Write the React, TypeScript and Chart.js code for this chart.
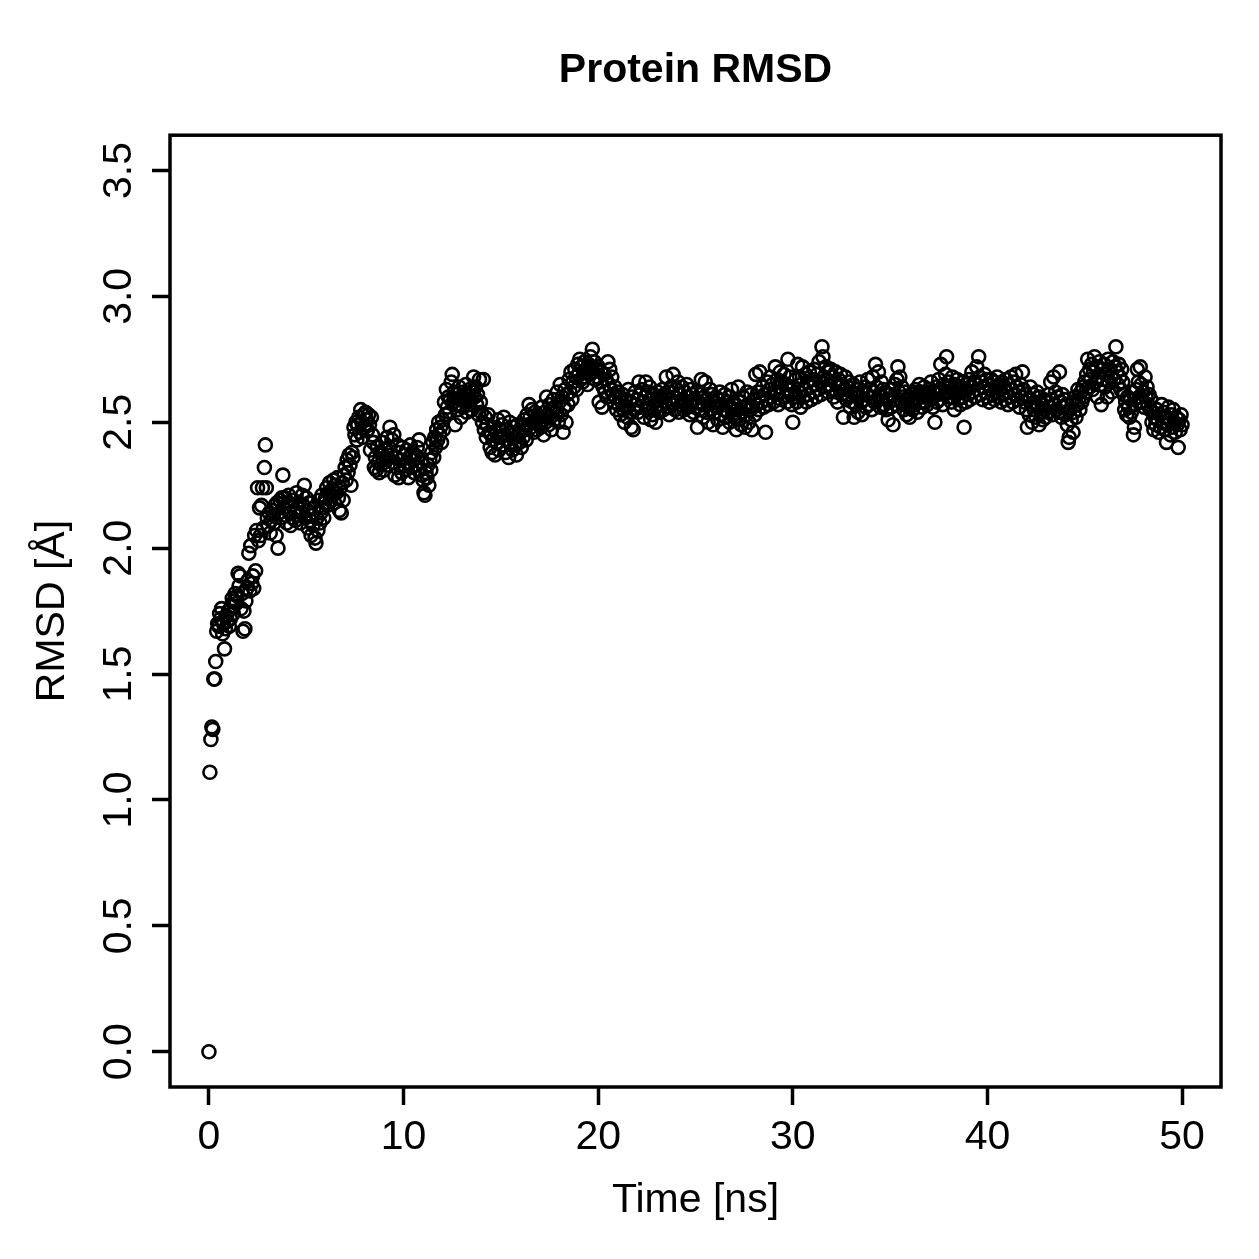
import { useEffect, useRef } from "react";
import { Chart, registerables } from "chart.js";

Chart.register(...registerables);

const TITLE = "Protein RMSD";
const X_LABEL = "Time [ns]";
const Y_LABEL = "RMSD [Å]";
const X_TICKS = [0, 10, 20, 30, 40, 50];
const Y_TICKS = [0, 0.5, 1.0, 1.5, 2.0, 2.5, 3.0, 3.5];
const Y_TICK_LABELS = ["0.0", "0.5", "1.0", "1.5", "2.0", "2.5", "3.0", "3.5"];
const TIME_STEP_NS = 0.05;

// RMSD (Å) sampled every 0.05 ns, one row per nanosecond
const RMSD_0_10 = [
  0.00, 1.11, 1.24, 1.29, 1.28, 1.48, 1.48, 1.55, 1.67, 1.70, 1.69, 1.74, 1.72, 1.76, 1.66, 1.70, 1.60, 1.68, 1.73, 1.71,
  1.75, 1.69, 1.72, 1.77, 1.80, 1.74, 1.79, 1.82, 1.78, 1.81, 1.90, 1.85, 1.89, 1.76, 1.82, 1.67, 1.75, 1.68, 1.79, 1.84,
  1.87, 1.98, 1.83, 2.01, 1.86, 1.89, 1.84, 2.05, 1.91, 2.07, 2.24, 2.03, 2.16, 2.05, 2.17, 2.24, 2.08, 2.32, 2.41, 2.24,
  2.12, 2.09, 2.14, 2.06, 2.11, 2.15, 2.13, 2.10, 2.17, 2.05, 2.18, 2.00, 2.14, 2.19, 2.12, 2.20, 2.29, 2.16, 2.20, 2.13,
  2.10, 2.18, 2.21, 2.14, 2.09, 2.17, 2.12, 2.19, 2.15, 2.11, 2.22, 2.16, 2.13, 2.18, 2.10, 2.14, 2.21, 2.17, 2.25, 2.12,
  2.20, 2.15, 2.08, 2.18, 2.11, 2.05, 2.13, 2.09, 2.16, 2.04, 2.02, 2.12, 2.07, 2.19, 2.10, 2.14, 2.21, 2.16, 2.12, 2.18,
  2.20, 2.24, 2.17, 2.22, 2.26, 2.19, 2.23, 2.21, 2.27, 2.18, 2.25, 2.22, 2.28, 2.20, 2.15, 2.24, 2.14, 2.26, 2.19, 2.29,
  2.32, 2.27, 2.35, 2.30, 2.37, 2.33, 2.25, 2.38, 2.36, 2.48, 2.45, 2.50, 2.43, 2.49, 2.52, 2.46, 2.55, 2.50, 2.44, 2.53,
  2.48, 2.54, 2.51, 2.47, 2.53, 2.49, 2.39, 2.52, 2.45, 2.42, 2.32, 2.36, 2.31, 2.40, 2.34, 2.30, 2.38, 2.33, 2.42, 2.35,
  2.31, 2.39, 2.36, 2.44, 2.33, 2.40, 2.48, 2.37, 2.43, 2.34, 2.45, 2.29, 2.36, 2.32, 2.41, 2.28, 2.38, 2.35, 2.30, 2.40,
];
const RMSD_10_20 = [
  2.33, 2.37, 2.31, 2.39, 2.34, 2.28, 2.36, 2.41, 2.32, 2.38, 2.35, 2.30, 2.37, 2.33, 2.40, 2.36, 2.43, 2.31, 2.34, 2.29,
  2.27, 2.22, 2.21, 2.30, 2.28, 2.33, 2.25, 2.35, 2.31, 2.38, 2.42, 2.36, 2.44, 2.40, 2.47, 2.43, 2.50, 2.45, 2.48, 2.42,
  2.51, 2.47, 2.58, 2.53, 2.63, 2.56, 2.60, 2.54, 2.59, 2.66, 2.69, 2.58, 2.62, 2.49, 2.57, 2.61, 2.55, 2.64, 2.59, 2.52,
  2.60, 2.56, 2.62, 2.58, 2.65, 2.54, 2.61, 2.57, 2.63, 2.59, 2.55, 2.62, 2.68, 2.60, 2.64, 2.57, 2.61, 2.53, 2.67, 2.58,
  2.54, 2.50, 2.67, 2.47, 2.52, 2.44, 2.49, 2.53, 2.46, 2.40, 2.45, 2.38, 2.43, 2.48, 2.37, 2.46, 2.42, 2.51, 2.39, 2.47,
  2.44, 2.49, 2.41, 2.52, 2.45, 2.38, 2.47, 2.43, 2.36, 2.50, 2.42, 2.46, 2.39, 2.48, 2.41, 2.44, 2.37, 2.49, 2.45, 2.42,
  2.46, 2.40, 2.48, 2.44, 2.51, 2.47, 2.43, 2.53, 2.49, 2.57, 2.52, 2.48, 2.55, 2.50, 2.46, 2.54, 2.51, 2.47, 2.53, 2.49,
  2.52, 2.48, 2.56, 2.51, 2.45, 2.54, 2.50, 2.60, 2.53, 2.49, 2.57, 2.52, 2.47, 2.55, 2.59, 2.51, 2.56, 2.54, 2.62, 2.50,
  2.58, 2.65, 2.53, 2.60, 2.46, 2.56, 2.63, 2.50, 2.61, 2.57, 2.67, 2.62, 2.70, 2.59, 2.66, 2.64, 2.71, 2.68, 2.63, 2.73,
  2.69, 2.75, 2.67, 2.72, 2.66, 2.70, 2.74, 2.68, 2.71, 2.65, 2.73, 2.69, 2.76, 2.72, 2.79, 2.70, 2.74, 2.67, 2.71, 2.68,
];
const RMSD_20_30 = [
  2.72, 2.58, 2.66, 2.70, 2.56, 2.64, 2.69, 2.62, 2.67, 2.60, 2.74, 2.65, 2.71, 2.63, 2.68, 2.61, 2.58, 2.64, 2.60, 2.55,
  2.62, 2.57, 2.60, 2.53, 2.58, 2.61, 2.55, 2.50, 2.59, 2.56, 2.52, 2.63, 2.54, 2.58, 2.48, 2.60, 2.47, 2.55, 2.62, 2.57,
  2.59, 2.54, 2.66, 2.61, 2.56, 2.63, 2.58, 2.52, 2.60, 2.66, 2.57, 2.62, 2.55, 2.64, 2.51, 2.59, 2.53, 2.61, 2.58, 2.50,
  2.56, 2.62, 2.59, 2.54, 2.60, 2.57, 2.63, 2.55, 2.61, 2.58, 2.68, 2.56, 2.62, 2.53, 2.59, 2.64, 2.57, 2.69, 2.60, 2.55,
  2.63, 2.58, 2.66, 2.54, 2.61, 2.57, 2.64, 2.59, 2.55, 2.62, 2.58, 2.65, 2.56, 2.60, 2.53, 2.63, 2.57, 2.61, 2.54, 2.59,
  2.56, 2.62, 2.48, 2.58, 2.55, 2.61, 2.67, 2.57, 2.52, 2.60, 2.66, 2.54, 2.59, 2.50, 2.57, 2.63, 2.55, 2.61, 2.49, 2.58,
  2.54, 2.60, 2.56, 2.51, 2.59, 2.62, 2.53, 2.57, 2.48, 2.55, 2.61, 2.52, 2.58, 2.54, 2.60, 2.50, 2.56, 2.63, 2.53, 2.58,
  2.52, 2.57, 2.47, 2.55, 2.64, 2.51, 2.58, 2.49, 2.54, 2.60, 2.56, 2.48, 2.53, 2.62, 2.57, 2.50, 2.55, 2.61, 2.47, 2.56,
  2.59, 2.53, 2.69, 2.57, 2.62, 2.55, 2.70, 2.60, 2.58, 2.64, 2.56, 2.61, 2.46, 2.59, 2.66, 2.57, 2.63, 2.68, 2.60, 2.65,
  2.58, 2.62, 2.72, 2.61, 2.67, 2.57, 2.64, 2.70, 2.59, 2.66, 2.62, 2.69, 2.60, 2.65, 2.58, 2.75, 2.63, 2.68, 2.61, 2.57,
];
const RMSD_30_40 = [
  2.50, 2.64, 2.60, 2.67, 2.58, 2.73, 2.62, 2.68, 2.56, 2.65, 2.72, 2.60, 2.63, 2.69, 2.58, 2.66, 2.61, 2.70, 2.64, 2.59,
  2.67, 2.62, 2.71, 2.65, 2.60, 2.69, 2.63, 2.74, 2.66, 2.61, 2.80, 2.76, 2.68, 2.64, 2.72, 2.67, 2.62, 2.70, 2.65, 2.71,
  2.63, 2.68, 2.60, 2.66, 2.70, 2.62, 2.58, 2.67, 2.64, 2.69, 2.61, 2.65, 2.52, 2.63, 2.68, 2.59, 2.64, 2.60, 2.66, 2.56,
  2.62, 2.58, 2.65, 2.52, 2.61, 2.57, 2.63, 2.54, 2.60, 2.66, 2.58, 2.53, 2.62, 2.59, 2.64, 2.56, 2.61, 2.67, 2.57, 2.63,
  2.60, 2.55, 2.68, 2.62, 2.58, 2.73, 2.64, 2.59, 2.70, 2.61, 2.56, 2.66, 2.60, 2.63, 2.57, 2.62, 2.55, 2.59, 2.51, 2.58,
  2.61, 2.56, 2.63, 2.49, 2.59, 2.65, 2.57, 2.67, 2.72, 2.62, 2.68, 2.58, 2.64, 2.60, 2.55, 2.62, 2.57, 2.53, 2.59, 2.56,
  2.52, 2.58, 2.61, 2.55, 2.62, 2.57, 2.63, 2.59, 2.54, 2.61, 2.65, 2.58, 2.62, 2.56, 2.60, 2.64, 2.58, 2.62, 2.57, 2.61,
  2.63, 2.59, 2.66, 2.60, 2.56, 2.62, 2.50, 2.64, 2.58, 2.61, 2.67, 2.59, 2.73, 2.63, 2.57, 2.65, 2.61, 2.69, 2.76, 2.62,
  2.66, 2.60, 2.64, 2.58, 2.68, 2.62, 2.55, 2.65, 2.61, 2.67, 2.59, 2.63, 2.57, 2.64, 2.60, 2.66, 2.48, 2.62, 2.58, 2.65,
  2.61, 2.67, 2.59, 2.64, 2.70, 2.62, 2.66, 2.60, 2.65, 2.72, 2.63, 2.76, 2.68, 2.61, 2.66, 2.59, 2.64, 2.69, 2.62, 2.67,
];
const RMSD_40_50 = [
  2.60, 2.65, 2.58, 2.63, 2.67, 2.61, 2.66, 2.59, 2.64, 2.62, 2.68, 2.60, 2.65, 2.63, 2.58, 2.66, 2.61, 2.64, 2.59, 2.67,
  2.62, 2.57, 2.65, 2.60, 2.68, 2.63, 2.58, 2.66, 2.61, 2.69, 2.64, 2.59, 2.62, 2.56, 2.65, 2.60, 2.70, 2.63, 2.58, 2.61,
  2.55, 2.48, 2.59, 2.53, 2.64, 2.57, 2.50, 2.61, 2.55, 2.58, 2.52, 2.62, 2.56, 2.49, 2.60, 2.54, 2.57, 2.51, 2.59, 2.55,
  2.52, 2.58, 2.54, 2.61, 2.56, 2.66, 2.59, 2.53, 2.68, 2.57, 2.62, 2.55, 2.60, 2.54, 2.70, 2.58, 2.52, 2.61, 2.56, 2.59,
  2.53, 2.57, 2.49, 2.42, 2.44, 2.55, 2.51, 2.58, 2.46, 2.54, 2.60, 2.52, 2.57, 2.63, 2.59, 2.55, 2.62, 2.58, 2.64, 2.60,
  2.66, 2.62, 2.69, 2.75, 2.64, 2.71, 2.67, 2.73, 2.63, 2.70, 2.76, 2.66, 2.72, 2.60, 2.68, 2.74, 2.65, 2.57, 2.71, 2.67,
  2.73, 2.64, 2.69, 2.60, 2.75, 2.66, 2.71, 2.68, 2.62, 2.74, 2.67, 2.72, 2.80, 2.70, 2.65, 2.73, 2.68, 2.63, 2.71, 2.66,
  2.61, 2.55, 2.58, 2.53, 2.60, 2.56, 2.52, 2.59, 2.54, 2.62, 2.45, 2.48, 2.57, 2.63, 2.71, 2.66, 2.60, 2.72, 2.65, 2.58,
  2.62, 2.56, 2.68, 2.60, 2.64, 2.57, 2.61, 2.55, 2.59, 2.50, 2.54, 2.47, 2.52, 2.49, 2.55, 2.51, 2.46, 2.53, 2.48, 2.57,
  2.50, 2.54, 2.47, 2.52, 2.42, 2.49, 2.56, 2.51, 2.45, 2.53, 2.48, 2.55, 2.50, 2.46, 2.52, 2.49, 2.40, 2.51, 2.47, 2.53,
  2.49,
];

const RMSD = [...RMSD_0_10, ...RMSD_10_20, ...RMSD_20_30, ...RMSD_30_40, ...RMSD_40_50];
const TIME = RMSD.map((_, i) => Math.round(i * TIME_STEP_NS * 100) / 100);

const FONT = '"Liberation Sans", Arial, Helvetica, sans-serif';

const framePlugin = {
  id: "rframe",
  afterDraw(chart: any) {
    const { ctx, chartArea: a, scales } = chart;
    const y = scales.y;
    ctx.save();
    ctx.strokeStyle = "#000";
    ctx.lineWidth = 3.5;
    ctx.strokeRect(a.left, a.top, a.right - a.left, a.bottom - a.top);
    ctx.fillStyle = "#000";
    ctx.font = `41px ${FONT}`;
    ctx.textAlign = "center";
    ctx.textBaseline = "alphabetic";
    Y_TICKS.forEach((v, i) => {
      const py = y.getPixelForValue(v);
      ctx.save();
      ctx.translate(a.left - 39, py);
      ctx.rotate(-Math.PI / 2);
      ctx.fillText(Y_TICK_LABELS[i], 0, 0);
      ctx.restore();
    });
    ctx.restore();
  },
};

export default function App() {
  const ref = useRef<HTMLCanvasElement | null>(null);

  useEffect(() => {
    if (!ref.current) return;
    const chart = new Chart(ref.current, {
      type: "scatter",
      data: {
        datasets: [
          {
            data: TIME.map((t, i) => ({ x: t, y: RMSD[i] })),
            pointStyle: "circle",
            pointRadius: 6.5,
            pointBorderWidth: 2.6,
            pointBorderColor: "#000",
            pointBackgroundColor: "rgba(0,0,0,0)",
            borderColor: "#000",
            backgroundColor: "rgba(0,0,0,0)",
            pointHoverRadius: 6.5,
          },
        ],
      },
      options: {
        responsive: false,
        animation: false,
        devicePixelRatio: 1,
        layout: { padding: { top: 0, left: 0, right: 38, bottom: 0 } },
        plugins: {
          legend: { display: false },
          tooltip: { enabled: false },
          title: {
            display: true,
            text: TITLE,
            fullSize: false,
            color: "#000",
            font: { family: FONT, size: 41, weight: "bold", lineHeight: 1.2 },
            padding: { top: 46, bottom: 40 },
          },
        },
        scales: {
          x: {
            type: "linear",
            position: "bottom",
            min: -2,
            max: 52,
            afterBuildTicks: (s: any) => {
              s.ticks = X_TICKS.map((v) => ({ value: v }));
            },
            afterFit: (s: any) => {
              s.height = 172;
            },
            grid: {
              display: true,
              drawOnChartArea: false,
              drawTicks: true,
              tickLength: 18,
              tickWidth: 3.5,
              tickColor: "#000",
            },
            border: { display: false },
            ticks: {
              color: "#000",
              font: { family: FONT, size: 41 },
              padding: 8,
              maxRotation: 0,
              minRotation: 0,
              autoSkip: false,
              callback: (v: any) => String(v),
            },
            title: {
              display: true,
              text: X_LABEL,
              color: "#000",
              font: { family: FONT, size: 41 },
              padding: { top: 0, bottom: 34 },
            },
          },
          y: {
            type: "linear",
            position: "left",
            min: -0.14,
            max: 3.64,
            afterBuildTicks: (s: any) => {
              s.ticks = Y_TICKS.map((v) => ({ value: v }));
            },
            afterFit: (s: any) => {
              s.width = 170;
            },
            grid: {
              display: true,
              drawOnChartArea: false,
              drawTicks: true,
              tickLength: 18,
              tickWidth: 3.5,
              tickColor: "#000",
            },
            border: { display: false },
            ticks: { display: false },
            title: {
              display: true,
              text: Y_LABEL,
              color: "#000",
              font: { family: FONT, size: 41 },
              padding: { top: 28, bottom: 0 },
            },
          },
        },
      },
      plugins: [framePlugin],
    });
    return () => chart.destroy();
  }, []);

  return (
    <div style={{ position: "absolute", left: 0, top: 0, width: 1259, height: 1259, background: "#fff" }}>
      <canvas ref={ref} width={1259} height={1259} style={{ display: "block" }} />
    </div>
  );
}
